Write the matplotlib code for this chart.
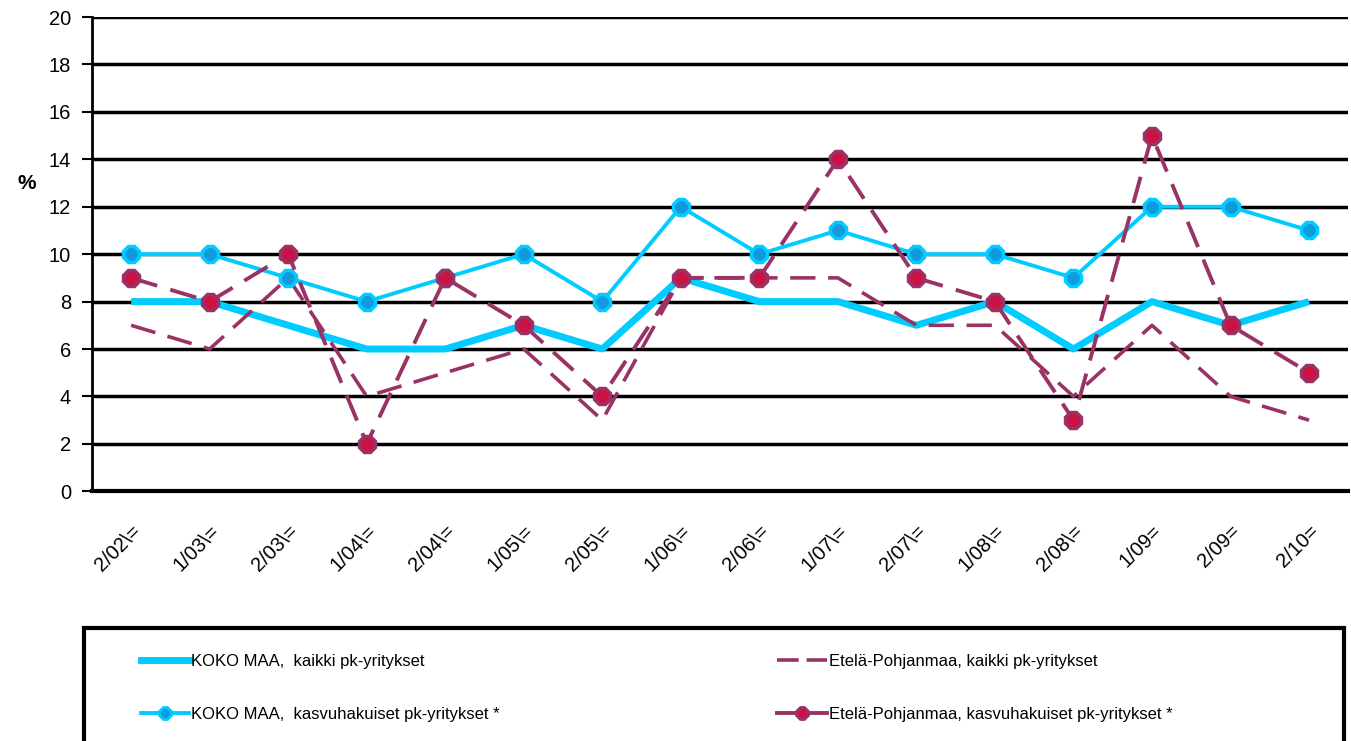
import matplotlib
matplotlib.use("Agg")
import matplotlib.pyplot as plt
from matplotlib.patches import Rectangle
from matplotlib.lines import Line2D
import numpy as np

plt.rcParams['font.family'] = ['Liberation Sans', 'DejaVu Sans']

# jaksot
kaudet = ["2/02\\=", "1/03\\=", "2/03\\=", "1/04\\=", "2/04\\=", "1/05\\=", "2/05\\=", "1/06\\=",
          "2/06\\=", "1/07\\=", "2/07\\=", "1/08\\=", "2/08\\=", "1/09=", "2/09=", "2/10="]

koko_kaikki = [8, 8, 7, 6, 6, 7, 6, 9, 8, 8, 7, 8, 6, 8, 7, 8]
koko_kasvu = [10, 10, 9, 8, 9, 10, 8, 12, 10, 11, 10, 10, 9, 12, 12, 11]
ep_kaikki = [7, 6, 9, 4, 5, 6, 3, 9, 9, 9, 7, 7, 4, 7, 4, 3]
ep_kasvu = [9, 8, 10, 2, 9, 7, 4, 9, 9, 14, 9, 8, 3, 15, 7, 5]

nimet = ["KOKO MAA,  kaikki pk-yritykset",
         "KOKO MAA,  kasvuhakuiset pk-yritykset *",
         "Etelä-Pohjanmaa, kaikki pk-yritykset",
         "Etelä-Pohjanmaa, kasvuhakuiset pk-yritykset *"]

syaani = "#00CCFF"
syaani_m = "#1199DD"
viini = "#993366"
viini_m = "#CC1144"
viiva = (7, 3.5)

fig = plt.figure(figsize=(13.51, 7.41), dpi=100)
ax = fig.add_axes([0.068, 0.337, 0.930, 0.640])

x = np.arange(len(kaudet))
ax.plot(x, koko_kaikki, color=syaani, lw=5, solid_capstyle="butt", zorder=3)
ax.plot(x, ep_kaikki, color=viini, lw=2.6, dashes=viiva, zorder=3)
ax.plot(x, koko_kasvu, color=syaani, lw=2.8, marker="8", ms=13,
        mfc=syaani_m, mec=syaani, mew=2.5, zorder=4)
ax.plot(x, ep_kasvu, color=viini, lw=2.8, dashes=viiva, marker="8", ms=13,
        mfc=viini_m, mec=viini, mew=2.5, zorder=5)

ax.set_xlim(-0.5, len(kaudet) - 0.5)
ax.set_ylim(0, 20)
ax.set_yticks(range(0, 21, 2))
ax.set_xticks(x)
ax.set_xticklabels(kaudet, rotation=45, ha="right", rotation_mode="anchor", fontsize=14.5)
ax.tick_params(axis="x", which="major", length=0, pad=22)
ax.tick_params(axis="y", labelsize=14.5, length=7, width=1.5, direction="out", pad=8)
ax.yaxis.grid(True, color="black", lw=2.5)
ax.set_axisbelow(True)
for s in ["top", "right"]:
    ax.spines[s].set_visible(False)
ax.spines["left"].set_linewidth(2)
ax.spines["bottom"].set_linewidth(3)

fig.text(0.013, 0.752, "%", fontsize=15, fontweight="bold", ha="left", va="center")

# selitelaatikko
fig.patches.append(Rectangle((0.062, -0.01), 0.933, 0.163, transform=fig.transFigure,
                             fill=False, edgecolor="black", lw=3))

h1 = Line2D([], [], color=syaani, lw=5)
h2 = Line2D([], [], color=syaani, lw=2.8, marker="8", ms=9, mfc=syaani_m, mec=syaani, mew=2)
h3 = Line2D([], [], color=viini, lw=2.6, dashes=(6, 2.2))
h4 = Line2D([], [], color=viini, lw=2.8, marker="8", ms=9, mfc=viini_m, mec=viini, mew=2)

leg1 = fig.legend([h1, h2], nimet[:2], loc="upper left", bbox_to_anchor=(0.093, 0.138),
                  frameon=False, fontsize=12, handlelength=2.9, handletextpad=0.15,
                  labelspacing=2.3)
leg2 = fig.legend([h3, h4], nimet[2:], loc="upper left", bbox_to_anchor=(0.564, 0.138),
                  frameon=False, fontsize=12, handlelength=3.0, handletextpad=0.15,
                  labelspacing=2.3)

fig.savefig("out.png", dpi=100)
